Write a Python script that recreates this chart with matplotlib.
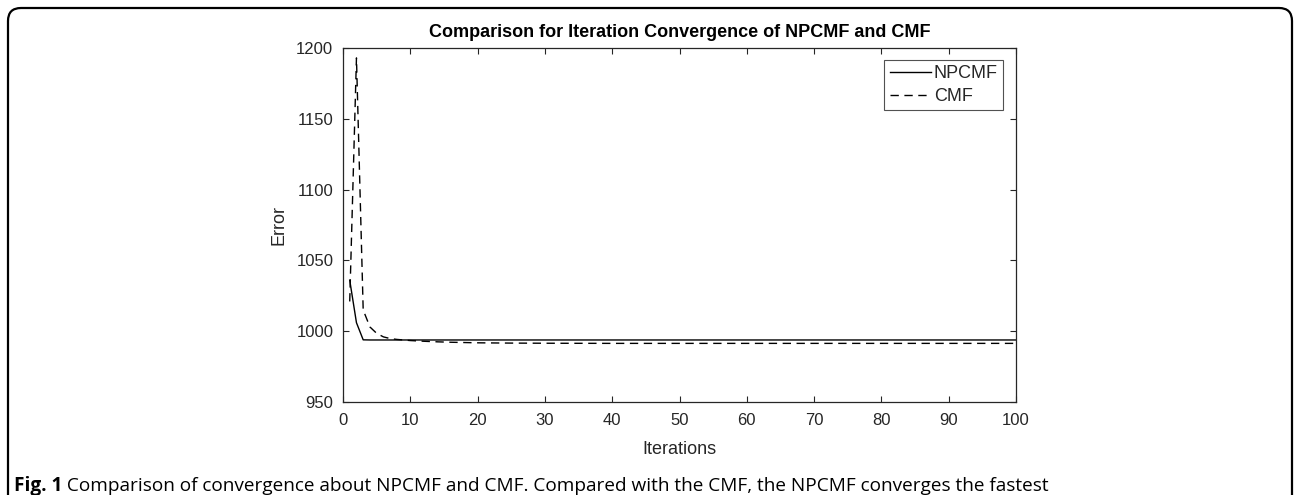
import matplotlib
matplotlib.use("Agg")
import matplotlib.pyplot as plt
from matplotlib.patches import FancyBboxPatch

# ---- data ----
iterations = [1, 2, 3, 4, 5, 6, 7, 8, 9, 10, 12, 14, 16, 18, 20, 25, 30, 40, 50, 60, 70, 80, 90, 100]
npcmf = [1036, 1006, 993.9, 993.8, 993.8, 993.8, 993.8, 993.8, 993.8, 993.8, 993.8, 993.8,
         993.8, 993.8, 993.8, 993.8, 993.8, 993.8, 993.8, 993.8, 993.8, 993.8, 993.8, 993.8]
cmf = [1021, 1193, 1015, 1003, 998.5, 996.0, 994.8, 994.2, 993.8, 993.4, 992.9, 992.5,
       992.2, 992.0, 991.8, 991.6, 991.5, 991.4, 991.4, 991.4, 991.4, 991.4, 991.4, 991.4]
x_ticks = [0, 10, 20, 30, 40, 50, 60, 70, 80, 90, 100]
y_ticks = [950, 1000, 1050, 1100, 1150, 1200]

title = "Comparison for Iteration Convergence of NPCMF and CMF"
caption_bold = "Fig. 1"
caption_text = " Comparison of convergence about NPCMF and CMF. Compared with the CMF, the NPCMF converges the fastest"

W, H, DPI = 1295, 495, 100
fig = plt.figure(figsize=(W / DPI, H / DPI), dpi=DPI)
fig.patch.set_facecolor("white")

# outer rounded frame (bottom edge outside the image)
frame = FancyBboxPatch((8, -40), 1292 - 8, H - 8 + 40,
                       boxstyle="round,pad=0,rounding_size=13",
                       transform=None, facecolor="none", edgecolor="black",
                       linewidth=1.6, zorder=0)
fig.patches.append(frame)

axL, axR, axT, axB = 343, 1016, 48, 402
ax = fig.add_axes([axL / W, 1 - axB / H, (axR - axL) / W, (axB - axT) / H])

font = ["Liberation Sans", "DejaVu Sans"]
dark = "#262626"

ax.plot(iterations, npcmf, color="black", linewidth=1.0, linestyle="-", label="NPCMF")
ax.plot(iterations, cmf, color="black", linewidth=1.0, linestyle=(0, (6, 4)), label="CMF")

ax.set_xlim(0, 100)
ax.set_ylim(950, 1200)
ax.set_xticks(x_ticks)
ax.set_yticks(y_ticks)
ax.set_xticklabels([str(v) for v in x_ticks], fontfamily=font, fontsize=12, color=dark)
ax.set_yticklabels([str(v) for v in y_ticks], fontfamily=font, fontsize=12, color=dark)
ax.tick_params(direction="in", length=4.5, width=0.8, color=dark, top=True, right=True)
ax.tick_params(axis="x", pad=8)
ax.tick_params(axis="y", pad=7)
for s in ax.spines.values():
    s.set_color(dark)
    s.set_linewidth(0.9)

ax.set_xlabel("Iterations", fontfamily=font, fontsize=13, color=dark, labelpad=9)
ax.set_ylabel("Error", fontfamily=font, fontsize=13, color=dark, labelpad=6)
ax.set_title(title, fontfamily=font, fontsize=13, fontweight="bold", color="black", pad=8)

leg = ax.legend(loc="upper right", bbox_to_anchor=(0.981, 0.966), prop={"family": font, "size": 13},
                frameon=True, fancybox=False, edgecolor=dark, handlelength=2.3,
                handletextpad=0.15, borderpad=0.3, labelspacing=0.3, borderaxespad=0)
leg.get_frame().set_linewidth(0.8)
for t in leg.get_texts():
    t.set_color(dark)

# caption
cap_font = ["Open Sans", "DejaVu Sans"]
t1 = fig.text(14 / W, 1 - 486 / H, caption_bold, fontfamily=cap_font, fontsize=13.7,
              fontweight="bold", va="center", ha="left")
fig.canvas.draw()
bb = t1.get_window_extent()
fig.text(bb.x1 / W, 1 - 486 / H, caption_text, fontfamily=cap_font, fontsize=13.7,
         va="center", ha="left")

fig.savefig("out.png", dpi=DPI)
